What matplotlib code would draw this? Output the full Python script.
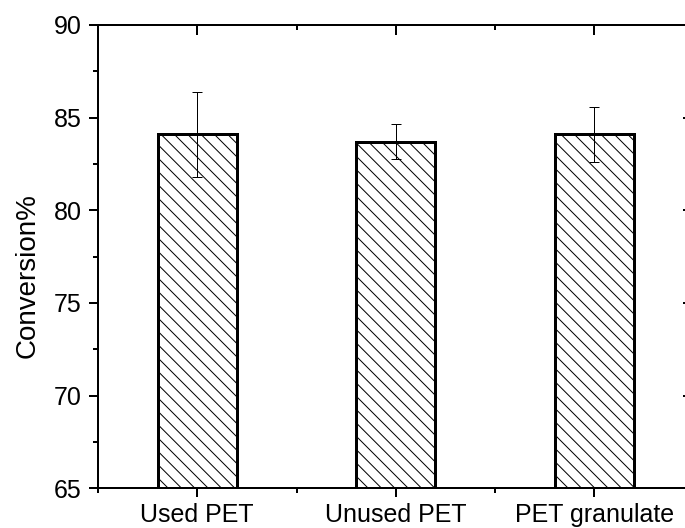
import numpy as np
import matplotlib
matplotlib.use('Agg')
import matplotlib.pyplot as plt
from matplotlib.ticker import MultipleLocator

plt.rcParams['font.family'] = ['Liberation Sans', 'DejaVu Sans']
plt.rcParams['hatch.linewidth'] = 0.9

categories = ['Used PET', 'Unused PET', 'PET granulate']
conversion = [84.1, 83.7, 84.1]
errors = [2.3, 0.93, 1.5]

dpi = 80
fig = plt.figure(figsize=(685/dpi, 528/dpi), dpi=dpi)
ax = fig.add_axes([0.1431, 0.0752, 0.8693, 0.8775])

x = np.arange(1, len(categories)+1)
ax.bar(x, conversion, width=0.4, bottom=0, color='white', edgecolor='black',
       linewidth=2.7, hatch='\\\\', zorder=2)
ax.errorbar(x, conversion, yerr=errors, fmt='none', ecolor='black',
            elinewidth=0.9, capsize=4.5, capthick=0.9, zorder=3)

ax.set_xlim(0.5, 3.5)
ax.set_ylim(65, 90)
ax.set_xticks(x)
ax.set_xticklabels(categories)
ax.xaxis.set_minor_locator(MultipleLocator(0.5))
ax.yaxis.set_major_locator(MultipleLocator(5))
ax.yaxis.set_minor_locator(MultipleLocator(2.5))

for s in ax.spines.values():
    s.set_linewidth(1.8)

ax.tick_params(which='major', direction='out', length=8.5, width=1.8,
               labelsize=22.5, pad=5)
ax.tick_params(which='minor', direction='out', length=4.5, width=1.8)
ax.tick_params(axis='y', which='major', pad=6)

# inward ticks on top and right (no labels)
top = ax.secondary_xaxis('top')
top.set_xticks(x)
top.xaxis.set_minor_locator(MultipleLocator(0.5))
top.tick_params(which='major', direction='in', length=9, width=1.8, labeltop=False)
top.tick_params(which='minor', direction='in', length=4.5, width=1.8)
top.spines['top'].set_linewidth(1.8)

right = ax.secondary_yaxis('right')
right.yaxis.set_major_locator(MultipleLocator(5))
right.yaxis.set_minor_locator(MultipleLocator(2.5))
right.tick_params(which='major', direction='in', length=9, width=1.8, labelright=False)
right.tick_params(which='minor', direction='in', length=4.5, width=1.8)

ax.set_ylabel('Conversion%', fontsize=25)
ax.yaxis.set_label_coords(-0.0957, 0.46)

fig.savefig('out.png', dpi=dpi)
